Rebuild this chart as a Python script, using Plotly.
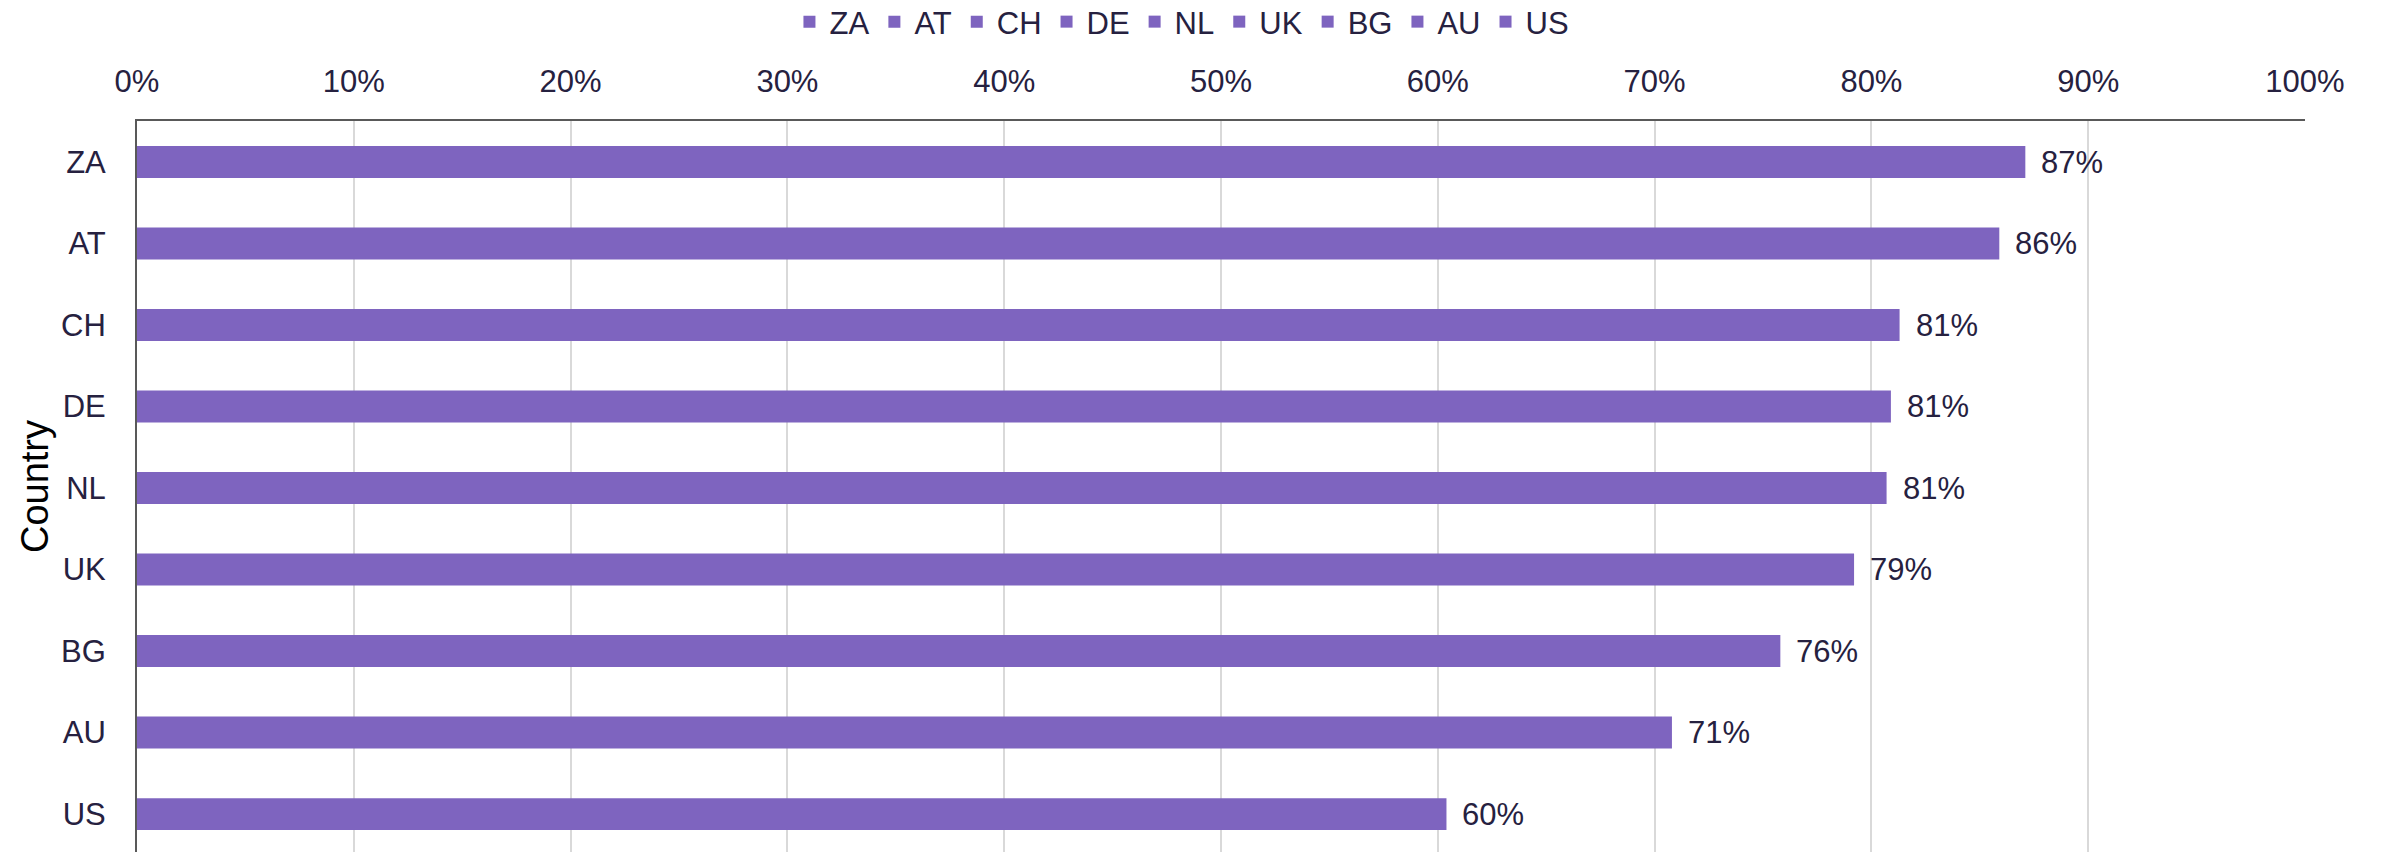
import plotly.graph_objects as go

countries = ["ZA", "AT", "CH", "DE", "NL", "UK", "BG", "AU", "US"]
values = [0.871, 0.859, 0.813, 0.809, 0.807, 0.792, 0.758, 0.708, 0.604]
x_ticks = [0, 0.1, 0.2, 0.3, 0.4, 0.5, 0.6, 0.7, 0.8, 0.9, 1.0]

BAR = "#7E64BF"
TXT = "#262140"
FONT = "Liberation Sans"

fig = go.Figure()
for c, v in zip(countries, values):
    fig.add_trace(go.Bar(
        x=[v], y=[c], orientation="h", name=c,
        marker=dict(color=BAR, line=dict(width=0)),
        width=0.39, hoverinfo="x+y",
    ))
    fig.add_annotation(
        x=v, y=c, xref="x", yref="y", text=f"{v:.0%}",
        showarrow=False, xanchor="left", yanchor="middle", xshift=14,
        font=dict(family=FONT, size=31, color=TXT),
    )

fig.update_layout(
    width=2382, height=852,
    margin=dict(l=137, r=77, t=121, b=0, autoexpand=False),
    paper_bgcolor="white", plot_bgcolor="white",
    barmode="overlay",
    font=dict(family=FONT, size=31, color=TXT),
    showlegend=True,
    legend=dict(
        orientation="h", xref="container", yref="container",
        x=0.4962, y=0.9742, xanchor="center", yanchor="middle",
        font=dict(family=FONT, size=31, color=TXT),
        traceorder="normal", itemclick=False,
    ),
    xaxis=dict(
        side="top", range=[0, 1], tickvals=x_ticks, tickformat=".0%",
        showgrid=True, gridcolor="#d9d9d9", gridwidth=2,
        showline=True, linecolor="#595959", linewidth=2,
        ticks="", ticklabelstandoff=15, zeroline=False, automargin=False,
        tickfont=dict(family=FONT, size=31, color=TXT),
    ),
    yaxis=dict(
        type="category", categoryorder="array", categoryarray=countries,
        range=[8.466, -0.503], automargin=False,
        showgrid=False, showline=True, linecolor="#595959", linewidth=2,
        ticks="", ticklabelstandoff=23,
        tickfont=dict(family=FONT, size=31, color=TXT),
        title=dict(text="Country", standoff=1,
                   font=dict(family=FONT, size=38, color="black")),
    ),
)

fig.write_html(
    "out.html",
    config={"displayModeBar": False},
    post_script="document.body.style.margin='0px';document.body.style.overflow='hidden';",
)
